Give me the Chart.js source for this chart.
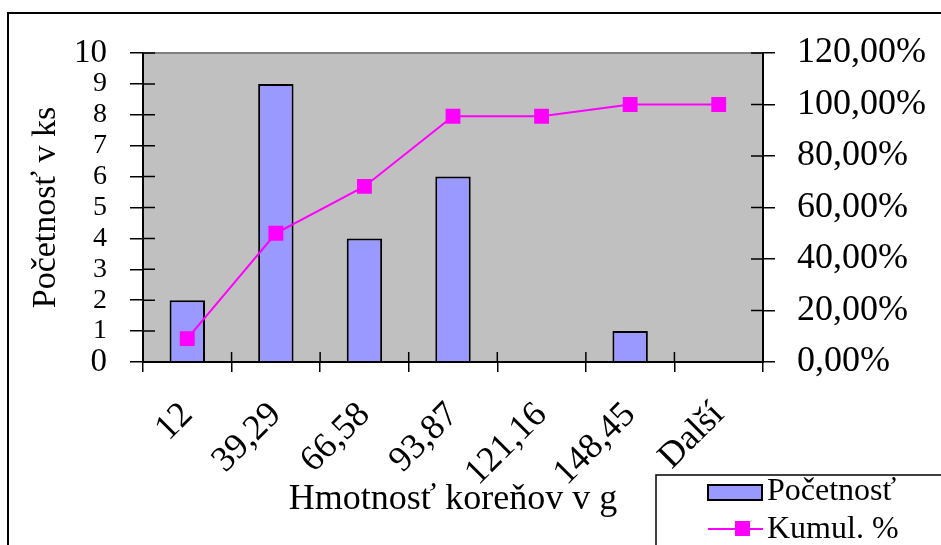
<!DOCTYPE html>
<html>
<head>
<meta charset="utf-8">
<script src="https://cdn.jsdelivr.net/npm/chart.js@4.4.0/dist/chart.umd.min.js"></script>
<style>
  html, body { margin: 0; padding: 0; background: #fff; }
  #wrap { position: relative; width: 941px; height: 545px; }
</style>
</head>
<body>
<div id="wrap"><canvas id="c" width="941" height="545"></canvas></div>
<script>
// ---- data ----
const categories = ['12', '39,29', '66,58', '93,87', '121,16', '148,45', 'Další'];
const pocetnost = [2, 9, 4, 6, 0, 1, 0];
const kumulPct = [9.09, 50.00, 68.18, 95.45, 95.45, 100.00, 100.00];
const leftTicks = [0, 1, 2, 3, 4, 5, 6, 7, 8, 9, 10];
const rightTicks = [0, 20, 40, 60, 80, 100, 120];
const seriesNames = ['Početnosť', 'Kumul. %'];
const xTitle = 'Hmotnosť koreňov v g';
const yTitle = 'Početnosť v ks';

const SERIF = "'Liberation Serif', 'Times New Roman', serif";
const PLOT_BG = '#C0C0C0';
const BAR_FILL = '#9999FF';
const LINE_COL = '#FF00FF';

function fmtPct(v) {
  return v.toFixed(2).replace('.', ',') + '%';
}

const decor = {
  id: 'decor',
  beforeDraw(chart) {
    const { ctx, chartArea: a } = chart;
    ctx.save();
    ctx.fillStyle = '#fff';
    ctx.fillRect(0, 0, chart.width, chart.height);
    // outer frame
    ctx.strokeStyle = '#000';
    ctx.lineWidth = 2;
    ctx.beginPath();
    ctx.moveTo(8, chart.height + 2);
    ctx.lineTo(8, 13);
    ctx.lineTo(chart.width + 2, 13);
    ctx.stroke();
    // plot area
    ctx.fillStyle = PLOT_BG;
    ctx.fillRect(a.left, a.top, a.right - a.left, a.bottom - a.top);
    ctx.strokeStyle = '#808080';
    ctx.lineWidth = 2;
    ctx.beginPath();
    ctx.moveTo(a.left, a.top);
    ctx.lineTo(a.right, a.top);
    ctx.stroke();
    ctx.restore();
  },
  afterDatasetsDraw(chart) {
    const { ctx, chartArea: a, scales } = chart;
    ctx.save();
    ctx.strokeStyle = '#000';
    ctx.lineWidth = 2;
    // axis lines
    ctx.beginPath();
    ctx.moveTo(a.left, a.top); ctx.lineTo(a.left, a.bottom);
    ctx.moveTo(a.left - 1, a.bottom); ctx.lineTo(a.right + 1, a.bottom);
    ctx.moveTo(a.right, a.top); ctx.lineTo(a.right, a.bottom);
    ctx.stroke();
    ctx.lineWidth = 1.5;
    ctx.beginPath();
    // inner parts of tick marks
    scales.y.ticks.forEach(t => {
      const p = scales.y.getPixelForValue(t.value);
      ctx.moveTo(a.left, p); ctx.lineTo(a.left + 12, p);
    });
    scales.y1.ticks.forEach(t => {
      const p = scales.y1.getPixelForValue(t.value);
      ctx.moveTo(a.right, p); ctx.lineTo(a.right - 12, p);
    });
    const xs = scales.x;
    for (let i = 1; i < categories.length; i++) {
      const p = (xs.getPixelForValue(i - 1) + xs.getPixelForValue(i)) / 2;
      ctx.moveTo(p, a.bottom); ctx.lineTo(p, a.bottom - 10);
    }
    ctx.stroke();
    ctx.restore();
  },
  afterDraw(chart) {
    const { ctx } = chart;
    const ds = chart.data.datasets;
    ctx.save();
    // legend box
    ctx.strokeStyle = '#000';
    ctx.lineWidth = 1.5;
    ctx.strokeRect(656, 475, 400, 200);
    ctx.font = '32px ' + SERIF;
    ctx.textBaseline = 'middle';
    ctx.textAlign = 'left';
    ctx.fillStyle = '#000';
    // bar entry
    const bar = ds[1];
    ctx.fillStyle = bar.backgroundColor;
    ctx.fillRect(708, 485, 54, 15);
    ctx.strokeStyle = bar.borderColor;
    ctx.lineWidth = 2;
    ctx.strokeRect(708, 485, 54, 15);
    ctx.fillStyle = '#000';
    ctx.fillText(bar.label, 767, 492);
    // line entry
    const ln = ds[0];
    ctx.strokeStyle = ln.borderColor;
    ctx.lineWidth = 2;
    ctx.beginPath();
    ctx.moveTo(708, 529); ctx.lineTo(763, 529);
    ctx.stroke();
    ctx.fillStyle = ln.backgroundColor;
    ctx.fillRect(735, 521, 15, 15);
    ctx.fillStyle = '#000';
    ctx.fillText(ln.label, 767, 530);
    ctx.restore();
  }
};

new Chart(document.getElementById('c'), {
  data: {
    labels: categories,
    datasets: [
      {
        type: 'line',
        label: seriesNames[1],
        data: kumulPct,
        yAxisID: 'y1',
        borderColor: LINE_COL,
        backgroundColor: LINE_COL,
        borderWidth: 2,
        pointStyle: 'rect',
        pointRadius: 10.5,
        pointBorderWidth: 0,
        pointBackgroundColor: LINE_COL,
        tension: 0,
        order: 0
      },
      {
        type: 'bar',
        label: seriesNames[0],
        data: pocetnost,
        yAxisID: 'y',
        backgroundColor: BAR_FILL,
        borderColor: '#000',
        borderWidth: 2,
        barPercentage: 0.4,
        categoryPercentage: 1,
        order: 1
      }
    ]
  },
  options: {
    responsive: false,
    animation: false,
    devicePixelRatio: 1,
    layout: { padding: { top: 53, left: 0, right: 0, bottom: 0 } },
    plugins: { legend: { display: false }, tooltip: { enabled: false } },
    scales: {
      x: {
        type: 'category',
        offset: true,
        grid: { offset: true, drawOnChartArea: false, tickLength: 10, color: '#000', lineWidth: 1.5 },
        border: { display: false },
        ticks: {
          autoSkip: false, maxRotation: 45, minRotation: 45, padding: 22,
          color: '#000', font: { family: SERIF, size: 36 }
        },
        title: {
          display: true, text: xTitle, color: '#000',
          font: { family: SERIF, size: 36 }, padding: { top: 0, bottom: 24 }
        },
        afterFit(s) { s.height = 183; }
      },
      y: {
        position: 'left',
        min: 0, max: 10,
        afterBuildTicks(s) { s.ticks = leftTicks.map(v => ({ value: v })); },
        grid: { drawOnChartArea: false, tickLength: 13, color: '#000', lineWidth: 1.5 },
        border: { display: false },
        ticks: {
          autoSkip: false, padding: 23, color: '#000',
          font: (c) => ({ family: SERIF, size: (c.tick && (c.tick.value === 0 || c.tick.value === 10)) ? 33 : 28 })
        },
        title: {
          display: true, text: yTitle, color: '#000',
          font: { family: SERIF, size: 34 }, padding: { top: 26, bottom: 0 }
        },
        afterFit(s) { s.width = 143; }
      },
      y1: {
        position: 'right',
        min: 0, max: 120,
        afterBuildTicks(s) { s.ticks = rightTicks.map(v => ({ value: v })); },
        grid: { drawOnChartArea: false, tickLength: 12, color: '#000', lineWidth: 1.5 },
        border: { display: false },
        ticks: {
          autoSkip: false, padding: 22, color: '#000',
          font: { family: SERIF, size: 36 },
          callback: (v) => fmtPct(v)
        },
        afterFit(s) { s.width = 178; }
      }
    }
  },
  plugins: [decor]
});
</script>
</body>
</html>
